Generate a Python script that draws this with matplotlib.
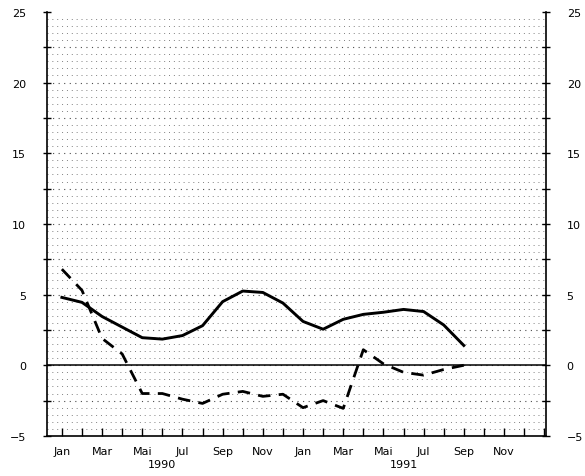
import numpy as np
import matplotlib
matplotlib.use("Agg")
from matplotlib import pyplot as plt
from matplotlib.ticker import MultipleLocator

# months since Jan 1990
months_solid = list(range(0, 21))      # Jan 1990 .. Sep 1991
solid = [4.8, 4.45, 3.45, 2.7, 1.95, 1.85, 2.1, 2.8, 4.5, 5.25, 5.15, 4.4,
         3.1, 2.55, 3.25, 3.6, 3.75, 3.95, 3.8, 2.85, 1.4]

months_dashed = list(range(0, 21))
dashed = [6.8, 5.3, 1.9, 0.8, -2.0, -2.0, -2.4, -2.7, -2.05, -1.85, -2.2, -2.05,
          -3.0, -2.5, -3.05, 1.1, 0.1, -0.5, -0.7, -0.3, 0.0]

tick_labels = ["Jan", "Mar", "Mai", "Jul", "Sep", "Nov"] * 2
years = ["1990", "1991"]

fig = plt.figure(figsize=(5.85, 4.77), dpi=100)
ax = fig.add_axes([0.080, 0.084, 0.853, 0.889])

ax.set_xlim(-0.75, 24.08)
ax.set_ylim(-5, 25)

# dotted background raster
for y in np.arange(-4.5, 25, 0.5):
    heavy = abs(y / 2.5 - round(y / 2.5)) < 1e-6
    ax.axhline(y, color="0.3" if heavy else "0.5", lw=0.8 if heavy else 0.7,
               linestyle=(0, (1, 4)), zorder=0)

ax.axhline(0, color="black", lw=1.1, zorder=2)

ax.plot(months_solid, solid, color="black", lw=2.1, zorder=3)
ax.plot(months_dashed, dashed, color="black", lw=2.0, linestyle=(0, (4.5, 3)), zorder=3)

ax.spines["top"].set_visible(False)
for s in ["left", "right", "bottom"]:
    ax.spines[s].set_linewidth(1.2)

ax.xaxis.set_minor_locator(MultipleLocator(1))
ax.set_xticks(range(0, 24, 2))
ax.set_xticklabels(tick_labels, fontsize=8)
ax.tick_params(axis="x", which="both", direction="in", length=6, width=1, pad=7)

ax.yaxis.set_major_locator(MultipleLocator(5))
ax.yaxis.set_minor_locator(MultipleLocator(2.5))
ax.tick_params(axis="y", which="both", direction="inout", length=6, width=1,
               left=True, right=True, labelleft=True, labelright=True,
               labelsize=8, pad=12)

for i, yr in enumerate(years):
    ax.text(5 + 12 * i, -6.6, yr, ha="center", va="top", fontsize=8)

fig.savefig("out.png", dpi=100)
